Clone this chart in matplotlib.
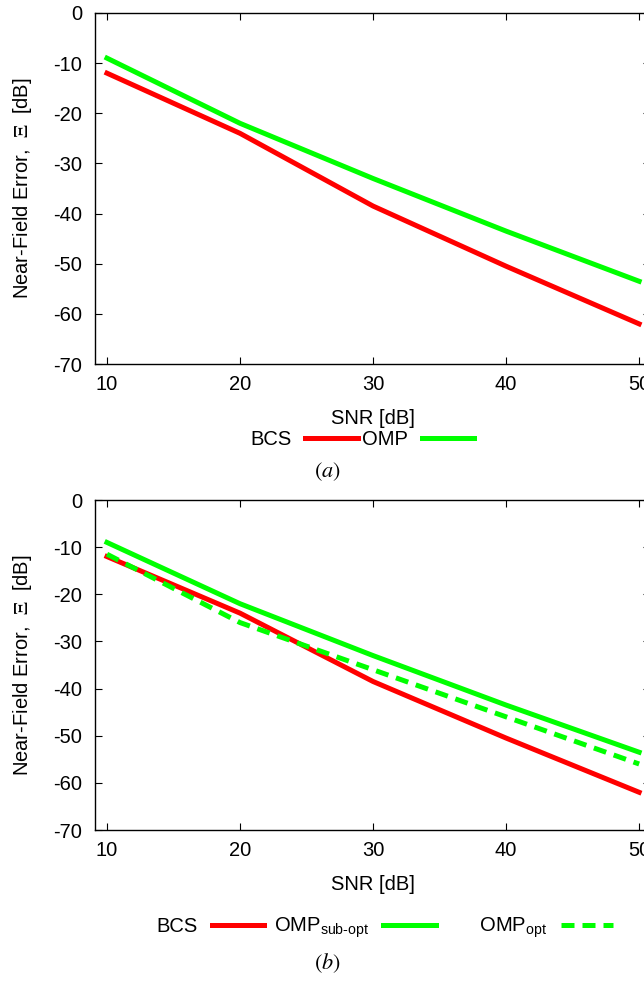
import matplotlib
matplotlib.use("Agg")
import matplotlib.pyplot as plt

plt.rcParams['font.family'] = ['Liberation Sans', 'DejaVu Sans']
plt.rcParams['mathtext.fontset'] = 'custom'
plt.rcParams['mathtext.rm'] = 'Liberation Sans'
plt.rcParams['axes.unicode_minus'] = False

snr = [10, 20, 30, 40, 50]
bcs = [-12, -24, -38.5, -50.5, -62]
omp_sub = [-9, -22, -33, -43.5, -53.5]
omp_opt = [-11.5, -26, -36, -46, -56]

xticks = [10, 20, 30, 40, 50]
yticks = [0, -10, -20, -30, -40, -50, -60, -70]

RED = '#ff0000'
GREEN = '#00ff00'
LW = 3.6
FS = 14.5

fig = plt.figure(figsize=(6.44, 9.86), dpi=100)

def style(ax):
    ax.set_xlim(9.1, 50.85)
    ax.set_ylim(-70, 0)
    ax.set_xticks(xticks)
    ax.set_yticks(yticks)
    ax.tick_params(direction='in', top=True, right=True, length=5, width=0.8,
                   labelsize=FS)
    ax.tick_params(axis='x', pad=8)
    ax.tick_params(axis='y', pad=9)
    ax.set_xlabel('SNR [dB]', fontsize=FS, labelpad=11)
    yl = ax.set_ylabel(r'Near-Field Error,  $\Xi$  [dB]', fontsize=FS, labelpad=14)
    yl.set_math_fontfamily('stix')
    for s in ax.spines.values():
        s.set_linewidth(1.0)

ax1 = fig.add_axes([95/644, 1-364/986, 1-95/644+0.01, (364-13)/986])
ax1.plot(snr, bcs, color=RED, lw=LW, label='BCS')
ax1.plot(snr, omp_sub, color=GREEN, lw=LW, label='OMP')
style(ax1)
fig.legend(handles=ax1.get_lines(), loc='center', bbox_to_anchor=(362/644, 1-440/986),
           ncol=2, frameon=False, markerfirst=False, fontsize=FS,
           handlelength=2.6, handletextpad=0.7, columnspacing=0.2)
t = fig.text(327/644, 1-472/986, r'$(a)$', fontsize=16, ha='center', va='center')
t.set_math_fontfamily('stix')

ax2 = fig.add_axes([95/644, 1-830/986, 1-95/644+0.01, (830-500)/986])
l1, = ax2.plot(snr, bcs, color=RED, lw=LW, label='BCS')
l2, = ax2.plot(snr, omp_sub, color=GREEN, lw=LW, label='OMP$_{\\rm sub\u2010opt}$')
l3, = ax2.plot(snr, omp_opt, color=GREEN, lw=LW, ls=(0, (2.6, 1.6)),
               label='      OMP$_{\\rm opt}$')
style(ax2)
fig.legend(handles=[l1, l2, l3], loc='center', bbox_to_anchor=(385/644, 1-928/986),
           ncol=3, frameon=False, markerfirst=False, fontsize=FS,
           handlelength=2.6, handletextpad=0.7, columnspacing=0.5)
t = fig.text(327/644, 1-963/986, r'$(b)$', fontsize=16, ha='center', va='center')
t.set_math_fontfamily('stix')

fig.savefig('out.png', dpi=100)
